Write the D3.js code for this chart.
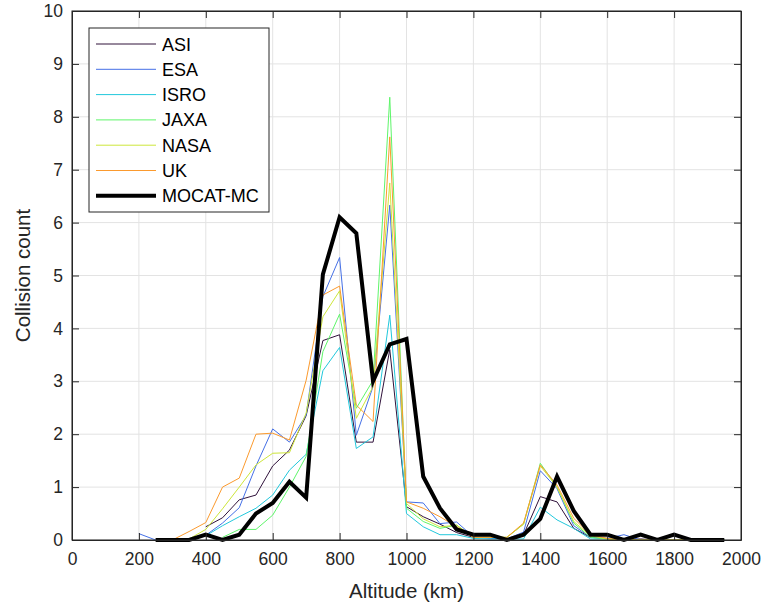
<!DOCTYPE html>
<html>
<head>
<meta charset="utf-8">
<script src="https://cdn.jsdelivr.net/npm/d3@7"></script>
<style>
  body { margin: 0; background: #fff; }
  svg { font-family: "Liberation Sans", Arial, Helvetica, sans-serif; }
</style>
</head>
<body>
<svg id="chart" width="763" height="607"></svg>
<script>
// altitude bins (km)
const altitudes = [200, 250, 300, 350, 400, 450, 500, 550, 600, 650, 700, 750, 800, 850, 900, 950,
  1000, 1050, 1100, 1150, 1200, 1250, 1300, 1350, 1400, 1450, 1500, 1550, 1600, 1650, 1700, 1750,
  1800, 1850, 1900, 1950];

// collision counts per altitude bin (null = not plotted)
const asi  = [null, null, null, null, 0.25, 0.42, 0.76, 0.85, 1.4, 1.7, 2.35, 3.77, 3.88, 1.85, 1.85, 3.6,
  0.63, 0.44, 0.3, 0.14, 0.05, 0.05, 0.02, 0.1, 0.82, 0.72, 0.22, 0.05, 0.03, 0, 0.02, 0, 0, 0, 0, 0];
const esa  = [0.12, 0, 0, 0, 0.09, 0.32, 0.61, 1.4, 2.1, 1.85, 2.36, 4.6, 5.34, 1.98, 2.9, 6.33,
  0.72, 0.7, 0.31, 0.34, 0.06, 0.03, 0.02, 0.15, 1.31, 0.97, 0.27, 0.05, 0.03, 0.1, 0, 0, 0, 0, 0, 0];
const isro = [null, null, null, null, 0.08, 0.27, 0.44, 0.6, 0.85, 1.32, 1.62, 3.2, 3.64, 1.73, 1.95, 4.25,
  0.5, 0.25, 0.1, 0.1, 0.03, 0.02, 0.02, 0.02, 0.62, 0.38, 0.22, 0.02, 0.02, 0, 0, 0, 0, 0, 0, 0];
const jaxa = [null, null, null, null, null, 0.05, 0.2, 0.2, 0.47, 1.0, 1.58, 3.56, 4.27, 2.49, 3.02, 8.37,
  0.6, 0.35, 0.22, 0.28, 0.05, 0.05, 0.05, 0.3, 1.45, 1.0, 0.32, 0.05, 0.02, 0, 0, 0, 0, 0, 0, 0];
const nasa = [null, null, 0, 0.02, 0.2, 0.59, 1.0, 1.42, 1.64, 1.65, 2.4, 4.22, 4.71, 2.3, 2.9, 6.75,
  0.69, 0.4, 0.25, 0.28, 0.05, 0.05, 0.05, 0.3, 1.4, 1.0, 0.35, 0.08, 0.02, 0, 0, 0, 0, 0, 0, 0];
const uk   = [null, null, 0, 0.16, 0.33, 1.0, 1.17, 2.0, 2.02, 1.89, 3.02, 4.63, 4.8, 2.55, 2.24, 7.62,
  0.72, 0.6, 0.44, 0.25, 0.05, 0.05, 0.05, 0.32, 1.42, 1.04, 0.41, 0.1, 0.03, 0, 0, 0, 0, 0, 0, 0];
const mocat = [null, 0, 0, 0, 0.1, 0, 0.1, 0.5, 0.7, 1.1, 0.8, 5.02, 6.1, 5.8, 3.0, 3.7,
  3.8, 1.2, 0.6, 0.2, 0.1, 0.1, 0, 0.1, 0.4, 1.2, 0.55, 0.1, 0.1, 0, 0.1, 0, 0.1, 0, 0, 0];

const seriesNames = ['ASI', 'ESA', 'ISRO', 'JAXA', 'NASA', 'UK', 'MOCAT-MC'];
const seriesValues = [asi, esa, isro, jaxa, nasa, uk, mocat];
const seriesColors = ['#30123b', '#4570e6', '#22c8dc', '#5ef56a', '#cde63a', '#fb9a2e', '#000000'];

const xTicks = [0, 200, 400, 600, 800, 1000, 1200, 1400, 1600, 1800, 2000];
const yTicks = [0, 1, 2, 3, 4, 5, 6, 7, 8, 9, 10];

const svg = d3.select('#chart');
const margin = {left: 72, right: 22, top: 11, bottom: 67};
const width = 763 - margin.left - margin.right,
  height = 607 - margin.top - margin.bottom;
const axisColor = '#262626';

const x = d3.scaleLinear().domain([0, 2000]).range([0, width]);
const y = d3.scaleLinear().domain([0, 10]).range([height, 0]);

const g = svg.append('g').attr('transform', `translate(${margin.left},${margin.top})`);

// grid
g.append('g')
  .selectAll('line.vgrid')
  .data(xTicks)
  .join('line')
  .attr('x1', d => x(d)).attr('x2', d => x(d))
  .attr('y1', 0).attr('y2', height)
  .attr('stroke', '#e3e3e3');
g.append('g')
  .selectAll('line.hgrid')
  .data(yTicks)
  .join('line')
  .attr('x1', 0).attr('x2', width)
  .attr('y1', d => y(d)).attr('y2', d => y(d))
  .attr('stroke', '#e3e3e3');

// lines
const line = d3.line()
  .defined(d => d[1] !== null)
  .x(d => x(d[0]))
  .y(d => y(d[1]));

seriesValues.forEach(function(vals, i) {
  const pts = altitudes.map((a, j) => [a, vals[j]]);
  g.append('path')
    .datum(pts)
    .attr('fill', 'none')
    .attr('stroke', seriesColors[i])
    .attr('stroke-width', i === 6 ? 4 : 1)
    .attr('stroke-linejoin', 'miter')
    .attr('d', line);
});

// axes with inward ticks, boxed
const tickLen = 7;
const fmt = d3.format('d');
g.append('g')
  .attr('transform', `translate(0,${height})`)
  .call(d3.axisBottom(x).tickValues(xTicks).tickFormat(fmt).tickSize(-tickLen).tickPadding(13).tickSizeOuter(0));
g.append('g')
  .call(d3.axisLeft(y).tickValues(yTicks).tickFormat(fmt).tickSize(-tickLen).tickPadding(9).tickSizeOuter(0));
g.append('g')
  .call(d3.axisTop(x).tickValues(xTicks).tickSize(-tickLen).tickFormat('').tickSizeOuter(0));
g.append('g')
  .attr('transform', `translate(${width},0)`)
  .call(d3.axisRight(y).tickValues(yTicks).tickSize(-tickLen).tickFormat('').tickSizeOuter(0));

g.selectAll('.domain').attr('stroke', axisColor);
g.selectAll('.tick line').attr('stroke', axisColor);
g.selectAll('.tick text').attr('fill', axisColor).style('font-size', '17.5px');
g.append('rect')
  .attr('width', width).attr('height', height)
  .attr('fill', 'none').attr('stroke', axisColor);

// axis labels
svg.append('text')
  .attr('x', margin.left + width / 2)
  .attr('y', 598)
  .attr('text-anchor', 'middle')
  .attr('fill', axisColor)
  .style('font-size', '20.5px')
  .text('Altitude (km)');
svg.append('text')
  .attr('transform', `translate(30,${margin.top + height / 2}) rotate(-90)`)
  .attr('text-anchor', 'middle')
  .attr('fill', axisColor)
  .style('font-size', '20.5px')
  .text('Collision count');

// legend
const legend = svg.append('g').attr('transform', 'translate(89,28)');
legend.append('rect')
  .attr('width', 180).attr('height', 184)
  .attr('fill', '#fff').attr('stroke', axisColor);
seriesNames.forEach(function(name, i) {
  const row = legend.append('g').attr('transform', `translate(0,${16 + i * 25.3})`);
  row.append('line')
    .attr('x1', 7).attr('x2', 67)
    .attr('stroke', seriesColors[i])
    .attr('stroke-width', i === 6 ? 4 : 1);
  row.append('text')
    .attr('x', 73).attr('y', 6.5)
    .attr('fill', '#000')
    .style('font-size', '18px')
    .text(name);
});
</script>
</body>
</html>
